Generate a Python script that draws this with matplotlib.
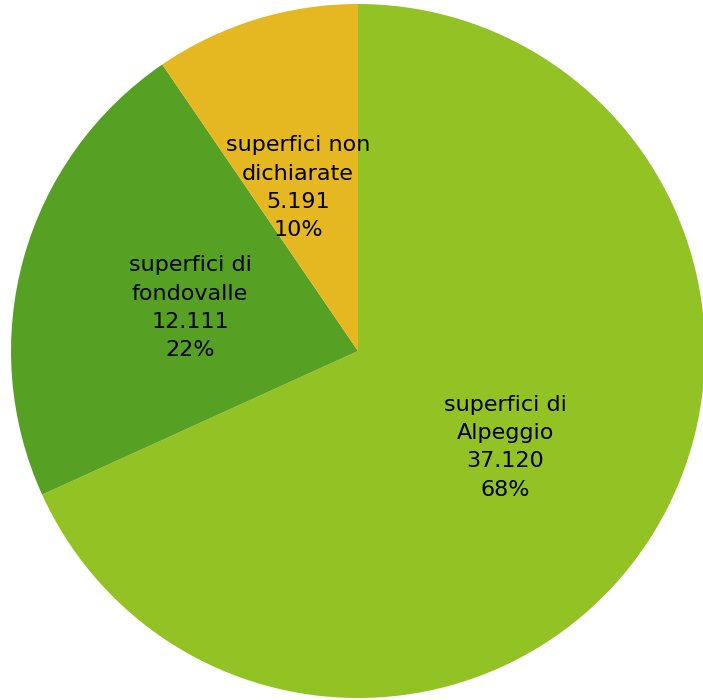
import matplotlib.pyplot as plt

labels = ['superfici di\nAlpeggio', 'superfici di\nfondovalle', 'superfici non\ndichiarate']
values = [37120, 12111, 5191]
colors = ['#93C225', '#56A024', '#E5B822']
label_pos = [(0.424, -0.277), (-0.484, 0.124), (-0.173, 0.470)]

fig = plt.figure(figsize=(7.03, 7.00), dpi=100)
ax = fig.add_axes([0, 0, 1, 1])

ax.pie(values, colors=colors, startangle=90, counterclock=False, radius=1.0)

total = sum(values)
for lab, v, (x, y) in zip(labels, values, label_pos):
    num = f'{v:,}'.replace(',', '.')
    pct = f'{round(100 * v / total)}%'
    ax.text(x, y, f'{lab}\n{num}\n{pct}', ha='center', va='center',
            fontsize=16, linespacing=1.52, color='black')

ax.set_xlim(-358 / 347, 345 / 347)
ax.set_ylim(-349 / 347, 351 / 347)
ax.set_aspect('equal')
ax.axis('off')

fig.savefig('out.png', dpi=100)
